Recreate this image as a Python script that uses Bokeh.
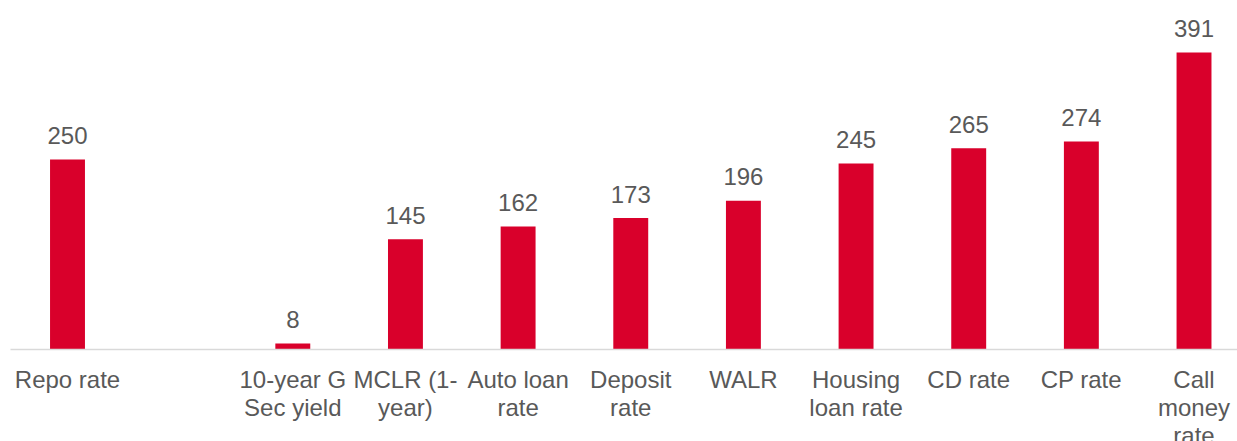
from bokeh.plotting import figure
from bokeh.models import Range1d, FixedTicker, ColumnDataSource
from bokeh.embed import file_html
from bokeh.resources import INLINE
from bokeh.core.properties import value

categories = ["Repo rate", "", "10-year G\nSec yield", "MCLR (1-\nyear)", "Auto loan\nrate",
              "Deposit\nrate", "WALR", "Housing\nloan rate", "CD rate", "CP rate", "Call\nmoney\nrate"]
values = [250, None, 8, 145, 162, 173, 196, 245, 265, 274, 391]

xs = [i for i, v in enumerate(values) if v is not None]
tops = [v for v in values if v is not None]
src = ColumnDataSource(dict(x=xs, top=tops, lbl=[str(v) for v in tops]))

BAR = "#D9002B"
TXT = "#595959"
FONT = "Liberation Sans"

p = figure(width=1237, height=451, output_backend="svg", toolbar_location=None,
           x_range=Range1d(-0.506, 10.386), y_range=Range1d(0, 459.5),
           min_border_left=10, min_border_right=0, min_border_top=0, min_border_bottom=60)
p.outline_line_color = None
p.xgrid.visible = False
p.ygrid.visible = False
p.yaxis.visible = False

p.vbar(x="x", top="top", width=0.31, source=src, fill_color=BAR, line_color=None)
p.text(x="x", y="top", text="lbl", source=src, text_align="center", text_baseline="alphabetic",
       y_offset=-24, text_color=TXT, text_font=value(FONT), text_font_size="24px")

ax = p.xaxis[0]
ax.ticker = FixedTicker(ticks=xs)
ax.major_label_overrides = {i: categories[i] for i in xs}
ax.major_tick_line_color = None
ax.minor_tick_line_color = None
ax.axis_line_color = "#D9D9D9"
ax.axis_line_width = 1.5
ax.major_label_text_color = TXT
ax.major_label_text_font = FONT
ax.major_label_text_font_size = "24px"
ax.major_label_text_line_height = 1.04
ax.major_label_standoff = 10

open("out.html", "w").write(file_html(p, INLINE))
